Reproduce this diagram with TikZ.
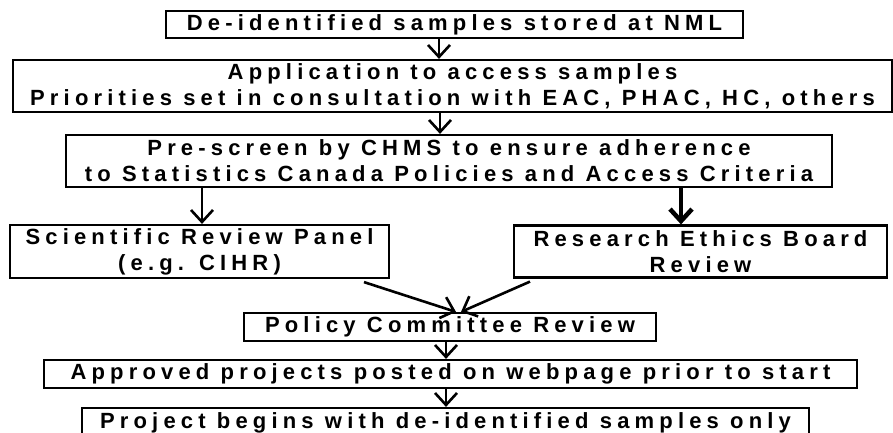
\documentclass[tikz,border=0pt]{standalone}
\usepackage{fontspec}
\setmainfont{Liberation Sans}[LetterSpace=23.5]
\usetikzlibrary{arrows.meta}
\tikzset{
	box/.style={draw,line width=2.2pt,align=center,inner sep=0pt,font=\fontsize{22}{26}\selectfont\bfseries},
	flow/.style={-{Straight Barb[length=12pt,width=22pt]},line width=2.6pt},
}
\begin{document}
\begin{tikzpicture}[x=1pt,y=-1pt]
		\clip (0,0) rectangle (893,433);
		\node[box,minimum width=577,minimum height=27] (stored) at (454.5,24.5){De-identified samples stored at NML};
		\node[box,minimum width=879,minimum height=52] (application) at (452.5,86){Application to access samples\\Priorities set in consultation with EAC, PHAC, HC, others};
		\node[box,minimum width=766,minimum height=52] (prescreen) at (449,161){Pre-screen by CHMS to ensure adherence\\to Statistics Canada Policies and Access Criteria};
		\node[box,minimum width=379,minimum height=53] (scientific) at (199.5,251.5){Scientific Review Panel\\(e.g. CIHR)};
		\node[box,minimum width=373,minimum height=52] (research) at (700.5,251.5){Research Ethics Board\\Review};
		\node[box,minimum width=412,minimum height=28] (policy) at (450,327){Policy Committee Review};
		\node[box,minimum width=813,minimum height=28] (approved) at (450.5,374){Approved projects posted on webpage prior to start};
		\node[box,minimum width=727,minimum height=29] (project) at (445.5,422.5){Project begins with de-identified samples only};
		%straight down between the upper boxes
		\draw[flow] ([xshift=-15.5pt]stored.south)--([xshift=-15.5pt]stored.south|-application.north);
		\draw[flow] ([xshift=-12.5pt]application.south)--([xshift=-12.5pt]application.south|-prescreen.north);
		\draw[flow] ([xshift=-247pt]prescreen.south)--([xshift=-247pt]prescreen.south|-scientific.north);
		\draw[flow,line width=4.5pt] ([xshift=232pt]prescreen.south)--([xshift=232pt]prescreen.south|-research.north);
		%both reviews meet at the committee
		\draw[flow] ([xshift=164.5pt,yshift=-3pt]scientific.south)--([xshift=6pt]policy.north);
		\draw[flow] ([xshift=-170.5pt,yshift=-3pt]research.south)--([xshift=11pt]policy.north);
		\draw[flow] ([xshift=-4pt]policy.south)--([xshift=-4pt]policy.south|-approved.north);
		\draw[flow] ([xshift=-4.5pt]approved.south)--([xshift=-4.5pt]approved.south|-project.north);
	\end{tikzpicture}
\end{document}
